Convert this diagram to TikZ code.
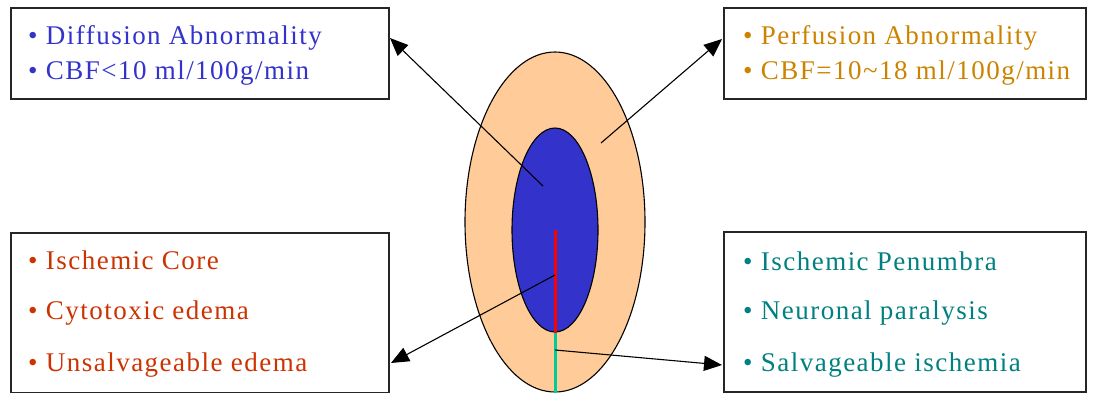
\documentclass[tikz,border=0pt]{standalone}
\usepackage{fontspec}
\setmainfont{Liberation Serif}[LetterSpace=5.5]
\usetikzlibrary{arrows.meta,shapes.geometric}
\definecolor{cblue}{HTML}{3333CC}
\definecolor{corange}{HTML}{CC8400}
\definecolor{cred}{HTML}{CC3300}
\definecolor{cteal}{HTML}{008080}
\definecolor{cpeach}{HTML}{FFCC99}
\definecolor{cgreen}{HTML}{00CC99}
\tikzset{
  box/.style={draw=black!85, line width=1.6pt, fill=white, inner sep=0pt},
  txt/.style={anchor=west, inner sep=0pt, font=\fontsize{27}{30}\selectfont},
  arr/.style={line width=1.1pt, -{Triangle[length=18pt,width=15pt]}},
  zone/.style={draw, ellipse, line width=1.1pt, inner sep=0pt},
}
\begin{document}
\begin{tikzpicture}[x=1pt,y=-1pt]
\useasboundingbox (0,0) rectangle (1094,393);
% ellipses
\node[zone, fill=cpeach, minimum width=180pt, minimum height=340pt] (pen) at (555,222) {};
\node[zone, fill=cblue, minimum width=86pt, minimum height=204pt] (core) at (555,230) {};
\coordinate (rtop) at (555,230);
\coordinate (rbot) at (555,333);
\coordinate (gbot) at (555,393);
\draw[red, line width=3pt] (rtop) -- (rbot);
\draw[cgreen, line width=3pt] (rbot) -- (gbot);
% boxes
\node[box, minimum width=378pt, minimum height=91pt, anchor=north west] (tl) at (10,7) {};
\node[box, minimum width=362pt, minimum height=91pt, anchor=north west] (tr) at (723,7) {};
\node[box, minimum width=378pt, minimum height=160pt, anchor=north west] (bl) at (10,232) {};
\node[box, minimum width=362pt, minimum height=160pt, anchor=north west] (br) at (723,231) {};
% texts
\node[txt, text=cblue] (tl1) at (28,38) {• Diffusion Abnormality};
\node[txt, text=cblue] (tl2) at (28,73) {• CBF<10 ml/100g/min};
\node[txt, text=corange] (tr1) at (743,38) {• Perfusion Abnormality};
\node[txt, text=corange] (tr2) at (743,73) {• CBF=10\textasciitilde18 ml/100g/min};
\node[txt, text=cred] (bl1) at (28,260) {• Ischemic Core};
\node[txt, text=cred] (bl2) at (28,313) {• Cytotoxic edema};
\node[txt, text=cred] (bl3) at (28,365) {• Unsalvageable edema};
\node[txt, text=cteal] (br1) at (743,261) {• Ischemic Penumbra};
\node[txt, text=cteal] (br2) at (743,313) {• Neuronal paralysis};
\node[txt, text=cteal] (br3) at (743,365) {• Salvageable ischemia};
% arrows
\coordinate (a1s) at (543,186); \coordinate (a1e) at (390,38);
\coordinate (a2s) at (601,143); \coordinate (a2e) at (722,39);
\coordinate (a3s) at (555,275); \coordinate (a3e) at (391,363);
\coordinate (a4s) at (555,350); \coordinate (a4e) at (722,365);
\draw[arr] (a1s) -- (a1e);
\draw[arr] (a2s) -- (a2e);
\draw[arr] (a3s) -- (a3e);
\draw[arr] (a4s) -- (a4e);
\end{tikzpicture}
\end{document}
